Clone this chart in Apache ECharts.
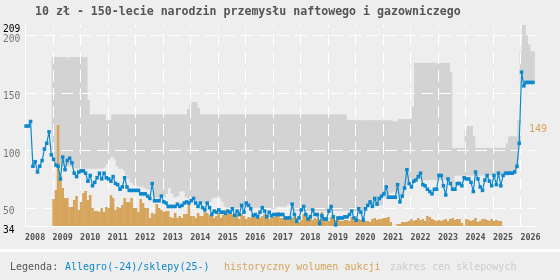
<!DOCTYPE html>
<html>
<head>
<meta charset="utf-8">
<title>10 zł - 150-lecie narodzin przemysłu naftowego i gazowniczego</title>
<script src="https://cdn.jsdelivr.net/npm/echarts@6/dist/echarts.min.js"></script>
<style>
    html, body { margin: 0; padding: 0; background: #eeeeee; }
    #chart { width: 560px; height: 280px; }
</style>
</head>
<body>
<div id="chart"></div>
<script>
// miesięczne dane, pierwszy punkt = styczeń 2008
var firstYear = 2008;

// cena Allegro / sklepy (zł), od 2008-01
var priceValues = [
    121, 121, 125, 86, 90, 81, 86, 91, 101, 106,
    116, 96, 92, 87, 86, 75, 94, 83, 91, 93,
    89, 80, 77, 81, 82, 82, 80, 73, 78, 69,
    72, 76, 80, 75, 80, 76, 75, 73, 77, 71,
    70, 66, 68, 76, 68, 65, 65, 65, 65, 65,
    62, 62, 62, 60, 58,
    71, 56, 56, 56, 60, 55, 54, 51, 51, 51,
    51, 53, 51, 52, 54, 55, 54, 56, 58, 54,
    51, 54, 50, 48, 54, 50, 44, 47, 46, 48,
    46, 46, 45, 47, 46, 49, 43, 47, 44, 52,
    46, 54, 52, 49, 43, 44, 42, 46, 50, 47,
    42, 46, 43, 44,
    44, 44, 44, 44, 41, 41, 41, 53, 44, 38,
    41, 48, 51, 44, 40, 42, 48, 44, 44, 36,
    43, 40, 40, 47, 51, 42, 35, 41, 41, 41,
    42, 42, 44, 47, 41, 39, 49, 46, 39, 49,
    52, 55, 51, 58, 53, 58, 60, 62, 68, 59,
    59, 59, 59, 70,
    55, 60, 67, 83, 71, 68, 73, 74, 77, 80,
    70, 69, 66, 64, 62, 66, 66, 78, 78, 69,
    61, 75, 71, 66, 66, 71, 71, 69, 76, 75,
    75, 72, 64, 81, 75, 68, 65, 74, 78, 73,
    69, 78, 70, 80, 69, 78, 80, 80, 80, 80,
    81, 86, 106, 168, 156, 159, 159, 159, 159
];

// wolumen aukcji (jednostki względne), od 2009-01
var volumeStart = 12;
var volumeValues = [
    27, 36, 101, 50, 38, 28, 28, 19, 19, 26,
    30, 16, 24, 33, 35, 26, 31, 18, 15, 15,
    14, 18, 14, 19, 18, 31, 28, 16, 19, 18,
    21, 28, 24, 24, 28, 18, 18, 14, 27, 23,
    18, 18, 8,
    13, 12, 22, 18, 16, 14, 15, 15, 9, 8,
    13, 8, 10, 8, 12, 12, 22, 10, 10, 8,
    13, 10, 10, 14, 13, 11, 10, 8, 10, 13,
    8, 11, 16, 12, 13, 12, 8, 12, 7, 12,
    10, 7, 9, 8, 10, 11, 9, 8, 10, 12,
    8, 7, 9, 9,
    13, 14, 8, 8, 8, 7, 6, 8, 9, 8,
    4, 6, 12, 13, 8, 8, 6, 8, 7, 6,
    14, 9, 8, 5, 9, 11, 6, 9, 5, 5,
    6, 6, 5, 9, 6, 5, 7, 6, 9, 5,
    5, 4, 7, 8, 6, 7, 7, 8, 8, 9,
    4, null, null, 2,
    2, 4, 4, 4, 5, 7, 5, 6, 8, 6,
    7, 5, 10, 9, 7, 6, 5, 6, 5, 6,
    7, 5, 7, 8, 6, 7, 7, 3, 0, 7,
    6, 5, 6, 8, 4, 5, 7, 7, 6, 5,
    7, 5, 6, 5, 5
];

// zakres cen sklepowych, od 2009-01
var shopStart = 12;
var shopMin = [
    100, 92, 88, 87, 86, 86, 86, 86, 86, 85,
    84, 84, 84, 84, 84, 84, 84, 84, 84, 84,
    84, 84, 85, 88, 92, 94, 94, 92, 86, 84,
    84, 82, 78, 75, 72, 70, 70, 69, 68, 70,
    67, 66, 66, 67, 60, 59, 59, 59, 59, 62,
    67, 67, 62, 59, 60, 64, 65, 64, 59, 58,
    57, 57, 57, 56, 55, 54, 53, 53, 55, 58,
    59, 59, 59, 58, 55, 51, 50, 50, 50, 50,
    50, 50, 50, 50, 50, 50, 50, 50, 50, 50,
    50, 50, 50, 49, 49, 49, 49, 51, 51, 51,
    51, 51, 53, 53, 53, 47, 47, 47, 47, 47,
    47, 47, 47, 47, 47, 47, 47, 47, 47, 47,
    47, 47, 47, 47, 47, 47, 47, 47, 47, 47,
    47, 47, 47, 47, 47, 47, 47, 50, 52, 52,
    52, 52, 52, 52, 58, 60, 62, 63, 64, 64,
    62, 60, 62, 66, 72, 74, 74, 74, 74, 74,
    74, 74, 74, 74, 74, 74, 74, 74, 74, 74,
    74, 74, 74, 74, 68, 78, 78, 78, 78, 78,
    78, 78, 78, 78, 78, 78, 78, 78, 78, 78,
    78, 78, 78, 78, 78, 78, 78, 78, 78, 80,
    80, 80, 84, 106, 159, 159, 159, 159, 159, 159
];
var shopMax = [
    181, 181, 181, 181, 181, 181, 178, 181, 181, 181,
    181, 181, 181, 181, 181, 144, 131, 131, 131, 131,
    131, 131, 131, 126, 126, 126, 131, 131, 131, 131,
    131, 131, 131, 131, 131, 131, 131, 131, 131, 131,
    131, 131, 131, 131, 131, 131, 131, 131, 131, 131,
    131, 131, 131, 131, 131, 131, 131, 131, 131, 136,
    139, 142, 142, 137, 131, 131, 131, 131, 131, 131,
    131, 131, 131, 131, 131, 131, 131, 131, 131, 131,
    131, 131, 131, 131, 131, 131, 131, 131, 131, 131,
    131, 131, 131, 131, 131, 131, 131, 131, 131, 131,
    131, 131, 131, 131, 131, 131, 131, 131, 131, 131,
    131, 131, 131, 131, 131, 131, 131, 131, 131, 131,
    131, 131, 131, 131, 131, 131, 131, 131, 126, 126,
    126, 126, 126, 126, 126, 126, 126, 126, 126, 126,
    126, 126, 126, 126, 126, 126, 126, 126, 125, 125,
    125, 127, 127, 127, 127, 127, 127, 138, 176, 176,
    176, 176, 176, 176, 176, 176, 176, 176, 176, 176,
    176, 176, 176, 168, 102, 102, 102, 102, 102, 102,
    118, 121, 121, 112, 102, 102, 102, 102, 102, 102,
    102, 102, 102, 102, 102, 102, 102, 102, 106, 112,
    112, 112, 112, 126, 186, 209, 200, 192, 186, 186
];

var yearLabels = [2008, 2009, 2010, 2011, 2012, 2013, 2014, 2015, 2016,
    2017, 2018, 2019, 2020, 2021, 2022, 2023, 2024, 2025, 2026];
var yLabels = [34, 50, 100, 150, 200, 209];
var yGrid = [34, 50, 100, 150, 200];
var lastVolumeText = '149';

var blue = '#0e88cc';
var orange = '#d6a45a';
var band = '#d3d3d3';
var mono = '"DejaVu Sans Mono", "Liberation Mono", monospace';
var MONTH = 30.44 * 24 * 3600 * 1000;
var X_MIN = Date.UTC(2008, 0, 1);
var X_MAX = Date.UTC(2026, 7, 8);
var Y_MIN = 34, Y_MAX = 209;

function monthTime(n) {
    return Date.UTC(firstYear + Math.floor(n / 12), n % 12, 15);
}

var pricePts = priceValues.map(function (v, i) { return [monthTime(i), v]; });
var volumePts = volumeValues.map(function (v, i) { return [monthTime(i + volumeStart), v]; });
var shopPts = shopMin.map(function (v, i) { return [monthTime(i + shopStart), v, shopMax[i]]; });
var yearTicks = yearLabels.map(function (y) { return Date.UTC(y, 0, 1); });

// prostokąt min-max dla każdego miesiąca (lekko zachodzące, żeby nie było szwów)
function renderShopRange(params, api) {
    var t = api.value(0);
    var top = api.coord([t, api.value(2)]);
    var bottom = api.coord([t, api.value(1)]);
    var w = api.size([MONTH, 0])[0];
    return {
        type: 'rect',
        shape: { x: top[0] - w / 2 - 0.8, y: top[1], width: w + 1.6, height: bottom[1] - top[1] },
        style: { fill: band }
    };
}

var chart = echarts.init(document.getElementById('chart'));
chart.setOption({
    animation: false,
    title: {
        text: '10 zł - 150-lecie narodzin przemysłu naftowego i gazowniczego',
        left: 35,
        top: 6,
        padding: 0,
        textStyle: { fontFamily: mono, fontSize: 11.6, fontWeight: 'bold', color: '#555' }
    },
    grid: { left: 25, right: 23, top: 25, bottom: 54, containLabel: false, outerBoundsMode: 'none' },
    xAxis: {
        type: 'value',
        min: X_MIN,
        max: X_MAX,
        axisLine: { show: false },
        axisTick: { show: false },
        splitLine: { show: false },
        axisLabel: {
            customValues: yearTicks,
            formatter: function (v) { return new Date(+v).getUTCFullYear() + ''; },
            align: 'left',
            margin: 8,
            fontFamily: mono,
            fontSize: 8.4,
            fontWeight: 'bold',
            color: '#555'
        }
    },
    yAxis: [{
        type: 'value',
        min: Y_MIN,
        max: Y_MAX,
        axisLine: { show: false },
        axisTick: { show: false },
        splitLine: { show: false },
        axisLabel: {
            customValues: yLabels,
            align: 'left',
            margin: 22,
            formatter: function (v) {
                return (+v === 34 || +v === 209) ? '{k|' + v + '}' : '{g|' + v + '}';
            },
            rich: {
                k: { color: '#000', fontFamily: mono, fontSize: 9.6, padding: [8, 0, 0, 0] },
                g: { color: '#777', fontFamily: mono, fontSize: 9.6, padding: [8, 0, 0, 0] }
            }
        }
    }, {
        type: 'value',
        min: 0,
        max: 201,
        show: false,
        splitLine: { show: false }
    }],
    series: [
        {
            name: 'zakres cen sklepowych',
            type: 'custom',
            renderItem: renderShopRange,
            data: shopPts,
            encode: { x: 0, y: [1, 2] },
            silent: true,
            zlevel: 0
        },
        {
            name: 'historyczny wolumen aukcji',
            type: 'bar',
            yAxisIndex: 1,
            data: volumePts,
            barWidth: 2.6,
            itemStyle: { color: orange },
            zlevel: 2,
            z: 2
        },
        {
            name: 'Allegro(-24)/sklepy(25-)',
            type: 'line',
            data: pricePts,
            symbol: 'rect',
            symbolSize: 3.5,
            showSymbol: true,
            lineStyle: { color: blue, width: 1.2 },
            itemStyle: { color: blue },
            zlevel: 2,
            z: 3
        }
    ]
});

// siatka liczona przez skale osi (convertToPixel)
function px(x, y) { return chart.convertToPixel({ gridIndex: 0 }, [x, y]); }
var corner0 = px(X_MIN, Y_MIN);
var corner1 = px(X_MAX, Y_MAX);
var gridEls = [];
yGrid.forEach(function (v) {
    var y = Math.round(px(X_MIN, v)[1]) + 0.5;
    gridEls.push({
        type: 'line', silent: true, zlevel: 1, z: 1,
        shape: { x1: corner0[0], y1: y, x2: corner1[0], y2: y },
        style: { stroke: '#ffffff', lineWidth: 1, lineDash: v === Y_MIN ? null : [12, 6] }
    });
});
yearTicks.forEach(function (t, i) {
    var x = Math.round(px(t, Y_MIN)[0]) + 0.5;
    gridEls.push({
        type: 'line', silent: true, zlevel: 1, z: 1,
        shape: { x1: x, y1: corner0[1], x2: x, y2: corner1[1] },
        style: { stroke: '#ffffff', lineWidth: 1, lineDash: i === 0 ? null : [12, 6] }
    });
});

var textEls = [
    { type: 'rect', shape: { x: 0, y: 249, width: 560, height: 3 }, style: { fill: '#ffffff' }, silent: true },
    { type: 'text', style: { x: 10, y: 267, text: 'Legenda:', fill: '#555', font: '10px ' + mono, verticalAlign: 'middle' } },
    { type: 'text', style: { x: 65, y: 267, text: 'Allegro(-24)/sklepy(25-)', fill: blue, font: '10px ' + mono, verticalAlign: 'middle' } },
    { type: 'text', style: { x: 224, y: 267, text: 'historyczny wolumen aukcji', fill: orange, font: '10px ' + mono, verticalAlign: 'middle' } },
    { type: 'text', style: { x: 390, y: 267, text: 'zakres cen sklepowych', fill: '#cccccc', font: '10px ' + mono, verticalAlign: 'middle' } },
    { type: 'text', style: { x: 529, y: 129, text: lastVolumeText, fill: orange, font: '10px ' + mono, verticalAlign: 'middle' } }
];

chart.setOption({ graphic: { elements: gridEls.concat(textEls) } });
</script>
</body>
</html>
